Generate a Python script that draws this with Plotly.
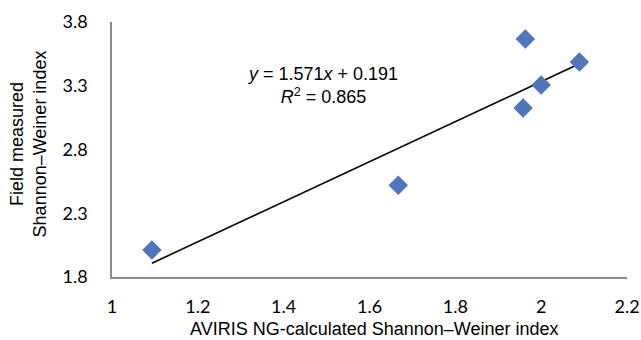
import plotly.graph_objects as go

# AVIRIS NG-calculated vs field-measured Shannon–Weiner index
aviris_index = [1.093, 1.667, 1.963, 1.958, 2.000, 2.089]
field_index = [2.012, 2.520, 3.667, 3.125, 3.306, 3.486]

slope = 1.571
intercept = 0.191
r_squared = 0.865

x_ticks = [1, 1.2, 1.4, 1.6, 1.8, 2, 2.2]
y_ticks = [1.8, 2.3, 2.8, 3.3, 3.8]

x_title = "AVIRIS NG-calculated Shannon–Weiner index"
y_title = "Field measured<br>Shannon–Weiner index"

trend_x = [min(aviris_index), max(aviris_index)]
trend_y = [slope * v + intercept for v in trend_x]

fig = go.Figure()
fig.add_trace(go.Scatter(
    x=trend_x, y=trend_y, mode="lines",
    line=dict(color="black", width=1.6), hoverinfo="skip",
))
fig.add_trace(go.Scatter(
    x=aviris_index, y=field_index, mode="markers",
    marker=dict(symbol="diamond", size=15, color="#4f76ba"),
))

title_font = dict(family="Liberation Sans, Arial", size=18, color="black")
tick_font = dict(family="Lato, Carlito, Calibri", size=18, color="black")
axis_line = "#8c8c8c"

# regression equation
fig.add_annotation(
    x=1.49, y=3.30, xref="x", yref="y", showarrow=False,
    text=f"<i>y</i> = {slope}<i>x</i> + {intercept}<br><i>R</i><sup>2</sup> = {r_squared}",
    font=title_font, align="center",
)

# axis titles
fig.add_annotation(
    x=0.509, y=0, xref="paper", yref="paper", yanchor="middle",
    yshift=-52, showarrow=False, text=x_title, font=title_font,
)
fig.add_annotation(
    x=0, y=0.52, xref="paper", yref="paper", xanchor="center", yanchor="middle",
    xshift=-84, showarrow=False, textangle=-90, text=y_title,
    font=title_font, align="center",
)

fig.update_layout(
    width=641, height=340,
    margin=dict(l=112, r=14, t=22, b=63),
    paper_bgcolor="white", plot_bgcolor="white",
    showlegend=False,
    xaxis=dict(
        range=[1, 2.2], tickvals=x_ticks, ticktext=[f"{v:g}" for v in x_ticks],
        showgrid=False, zeroline=False, showline=True, linecolor=axis_line,
        linewidth=1.5, ticks="", tickfont=tick_font, ticklabelstandoff=13,
        automargin=False,
    ),
    yaxis=dict(
        range=[1.8, 3.8], tickvals=y_ticks, ticktext=[f"{v:g}" for v in y_ticks],
        showgrid=False, zeroline=False, showline=True, linecolor=axis_line,
        linewidth=1.5, ticks="", tickfont=tick_font, ticklabelstandoff=19,
        automargin=False,
    ),
)

fig.write_html("out.html")
